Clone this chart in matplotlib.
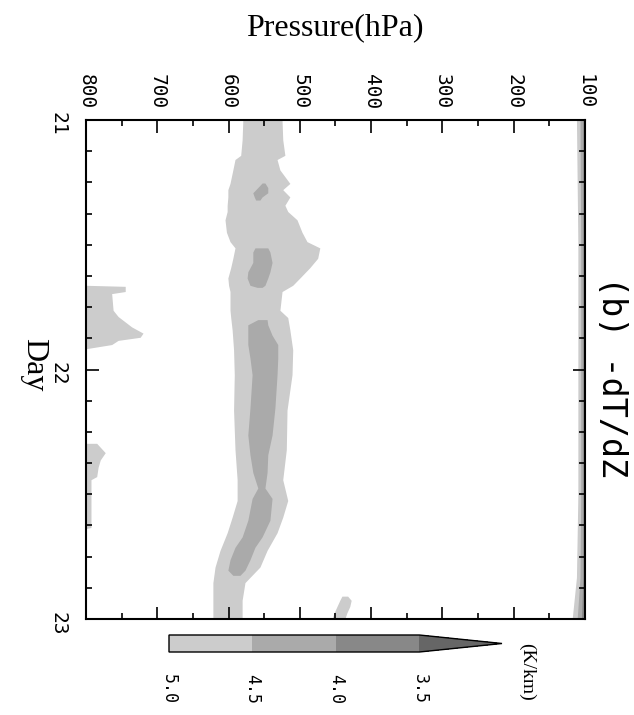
import matplotlib
matplotlib.use('Agg')
import matplotlib.pyplot as plt
import numpy as np
from matplotlib.colors import ListedColormap, BoundaryNorm
from matplotlib.cm import ScalarMappable

# axes
p_ticks = [800, 700, 600, 500, 400, 300, 200, 100]
day_ticks = [21, 22, 23]

# shading levels (K/km)
cbar_levels = [3.5, 4.0, 4.5, 5.0]
cbar_colors = ['#888888', '#aaaaaa', '#cccccc']
under_color = '#666666'

# stable layer: edges of the 5.0 K/km contour, hours after 21/00
band_hours = [0, 1.9, 3.4, 3.8, 4.8, 6.1, 6.7, 7.4, 8.2, 8.8, 9.6, 10.8, 11.7, 12.3,
              13.3, 14.2, 15.2, 15.9, 16.5, 18.3, 19.0, 20.2, 22.1, 24.5, 27.9, 31.7,
              34.6, 36.6, 38.2, 39.7, 41.4, 43.0, 44.5, 46.2, 48.0]
band_p_low = [580, 581, 583, 591, 594, 598, 601, 601, 602, 602, 605, 603, 598, 591,
              594, 597, 601, 600, 598, 598, 597, 595, 593, 592, 593, 591,
              588, 588, 595, 602, 612, 619, 622, 622, 622]
band_p_high = [525, 524, 521, 532, 528, 514, 524, 514, 521, 517, 504, 497, 490, 472,
               475, 486, 500, 510, 525, 528, 517, 514, 510, 511, 518, 519,
               524, 517, 524, 532, 546, 556, 577, 581, 581]

# 4.5 K/km cores
core_a_hours = [6.06, 6.5, 7.0, 7.4, 7.7]
core_a_low = [553, 559, 566, 564, 562]
core_a_high = [549, 545, 545, 553, 556]

core_b_hours = [12.3, 12.7, 13.7, 14.6, 15.2, 15.9, 16.1]
core_b_low = [563, 566, 566, 573, 574, 570, 560]
core_b_high = [545, 542, 539, 542, 545, 549, 553]

core_c_hours = [19.2, 19.7, 20.7, 21.6, 22.9, 24.5, 27.7, 30.3, 32.2, 33.9, 35.4,
                36.4, 38.5, 40.1, 41.1, 42.3, 43.3, 43.8]
core_c_low = [559, 573, 573, 573, 570, 567, 570, 573, 570, 566, 559,
              567, 573, 581, 591, 598, 601, 594]
core_c_high = [546, 545, 539, 531, 531, 532, 535, 539, 545, 546, 549,
               539, 542, 553, 563, 570, 577, 584]

# low-level patches (edge pressure, shaded down to 800 hPa)
low1_hours = [15.9, 16.0, 16.5, 16.7, 18.3, 18.9, 19.9, 20.5, 20.9, 21.2, 21.6, 22.0]
low1_p = [800, 745, 745, 764, 762, 755, 736, 720, 724, 755, 764, 800]
low2_hours = [31.1, 32.0, 32.7, 33.4, 34.3, 34.6, 39.2, 39.3]
low2_p = [785, 773, 780, 783, 785, 793, 793, 800]

# small patch near 440 hPa at the end
blob_hours = [45.8, 46.2, 46.8, 47.4, 48.0]
blob_low = [441, 444, 448, 452, 455]
blob_high = [433, 428, 430, 434, 437]

# thin layer at the top (100 hPa)
strip_hours = [0, 12, 24, 36, 44, 48]
strip_p5 = [112, 110, 110, 110, 112, 118]
strip_p45 = [107, 106, 106, 106, 107, 111]
strip_p40 = [103, 103, 103, 103, 103, 105]


def to_day(h):
    return 21 + np.asarray(h) / 24.0


fig = plt.figure(figsize=(6.34, 7.15), dpi=100)
ax = fig.add_axes([86 / 634, 1 - 619 / 715, 499 / 634, 499 / 715])

light, mid, dark = cbar_colors[2], cbar_colors[1], cbar_colors[0]

ax.fill_betweenx(to_day(band_hours), band_p_low, band_p_high, color=light, lw=0)
for hh, lo, hi in [(core_a_hours, core_a_low, core_a_high),
                   (core_b_hours, core_b_low, core_b_high),
                   (core_c_hours, core_c_low, core_c_high)]:
    ax.fill_betweenx(to_day(hh), lo, hi, color=mid, lw=0)

ax.fill_betweenx(to_day(low1_hours), 800, low1_p, color=light, lw=0)
ax.fill_betweenx(to_day(low2_hours), 800, low2_p, color=light, lw=0)
ax.fill_betweenx(to_day(blob_hours), blob_low, blob_high, color=light, lw=0)

ax.fill_betweenx(to_day(strip_hours), strip_p5, 100, color=light, lw=0)
ax.fill_betweenx(to_day(strip_hours), strip_p45, 100, color=mid, lw=0)
ax.fill_betweenx(to_day(strip_hours), strip_p40, 100, color=dark, lw=0)

ax.set_xlim(800, 100)
ax.set_ylim(23, 21)
ax.set_xticks(p_ticks)
ax.set_xticks(np.arange(150, 800, 100), minor=True)
ax.set_xticklabels([str(p) for p in p_ticks])
ax.set_yticks(day_ticks)
ax.set_yticks(np.arange(21, 23.01, 0.125), minor=True)
ax.set_yticklabels([str(d) for d in day_ticks])

ax.tick_params(which='both', direction='in', top=True, bottom=True, left=True, right=True,
               labeltop=True, labelbottom=False, width=1.2)
ax.tick_params(which='major', length=9)
ax.tick_params(which='minor', length=4.5)
ax.tick_params(axis='x', pad=8, labelrotation=-90)
ax.tick_params(axis='y', pad=13, labelrotation=-90)
for lab in ax.get_xticklabels() + ax.get_yticklabels():
    lab.set_fontfamily('DejaVu Sans Mono')
    lab.set_fontsize(14)
for s in ax.spines.values():
    s.set_linewidth(1.5)

fig.text(335 / 634, 1 - 28 / 715, 'Pressure(hPa)', ha='center', va='center',
         family='Liberation Serif', fontsize=23)
fig.text(34 / 634, 1 - 365 / 715, 'Day', ha='center', va='center', rotation=-90,
         family='Liberation Serif', fontsize=23)
fig.text(611 / 634, 1 - 377 / 715, '(b) -dT/dZ', ha='center', va='center', rotation=-90,
         family='DejaVu Sans Mono', fontsize=24)

# colorbar
cmap = ListedColormap(cbar_colors)
cmap.set_under(under_color)
norm = BoundaryNorm(cbar_levels, cmap.N)
cax = fig.add_axes([169 / 634, 1 - 652 / 715, 333 / 634, 17 / 715])
cb = fig.colorbar(ScalarMappable(norm=norm, cmap=cmap), cax=cax, orientation='horizontal',
                  extend='min', extendfrac=0.33, ticks=cbar_levels, drawedges=False)
cax.invert_xaxis()
cb.outline.set_linewidth(1.0)
cax.tick_params(length=0, pad=16, labelrotation=-90)
cax.set_xticklabels(['%.1f' % v for v in cbar_levels])
for lab in cax.get_xticklabels():
    lab.set_fontfamily('DejaVu Sans Mono')
    lab.set_fontsize(12)
fig.text(527 / 634, 1 - 672 / 715, '(K/km)', ha='center', va='center', rotation=-90,
         family='Liberation Serif', fontsize=14)

fig.savefig('out.png', dpi=100)
